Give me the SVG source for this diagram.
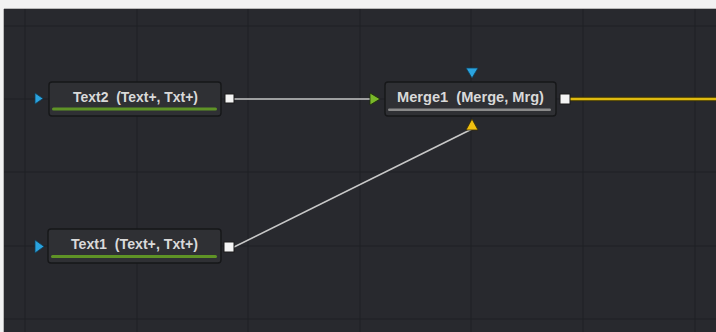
<svg xmlns="http://www.w3.org/2000/svg" width="716" height="332" viewBox="0 0 716 332">
  <defs>
    <style>
      .grid { stroke: #1f2024; stroke-width: 1; }
      .body { fill: #2f3034; stroke: #161719; stroke-width: 1.4; }
      .label { font-family: "Liberation Sans", Arial, sans-serif; font-size: 14px; font-weight: bold; fill: #d9d9d9; white-space: pre; }
      .port { fill: #f4f4f4; stroke: #1a1a1a; stroke-width: 1; }
      .blue { fill: #2aa3df; stroke: #10405a; stroke-width: 0.8; }
      .wire { stroke: #c8c8c8; stroke-width: 1.6; fill: none; }
    </style>
  </defs>
  <rect x="0" y="0" width="716" height="332" fill="#f2f2f2"/>
  <rect x="4" y="9" width="712" height="323" fill="#28292e"/>
  <line x1="4" y1="8.5" x2="716" y2="8.5" stroke="#b8b8b8" stroke-width="1"/>
  <line x1="3.5" y1="9" x2="3.5" y2="332" stroke="#b8b8b8" stroke-width="1"/>
  <g id="grid">
    <line class="grid" x1="25" y1="9" x2="25" y2="332"/>
    <line class="grid" x1="137" y1="9" x2="137" y2="332"/>
    <line class="grid" x1="248" y1="9" x2="248" y2="332"/>
    <line class="grid" x1="360" y1="9" x2="360" y2="332"/>
    <line class="grid" x1="471" y1="9" x2="471" y2="332"/>
    <line class="grid" x1="583" y1="9" x2="583" y2="332"/>
    <line class="grid" x1="695" y1="9" x2="695" y2="332"/>
    <line class="grid" x1="4" y1="26" x2="716" y2="26"/>
    <line class="grid" x1="4" y1="99" x2="716" y2="99"/>
    <line class="grid" x1="4" y1="172" x2="716" y2="172"/>
    <line class="grid" x1="4" y1="246" x2="716" y2="246"/>
    <line class="grid" x1="4" y1="319" x2="716" y2="319"/>
  </g>
  <g id="connectors">
    <line class="wire" x1="234" y1="99" x2="370" y2="99"/>
    <line class="wire" x1="234" y1="247" x2="472" y2="129"/>
    <line x1="570" y1="99" x2="716" y2="99" stroke="#3a3206" stroke-width="4.5"/>
    <line x1="570" y1="99" x2="716" y2="99" stroke="#e0bb10" stroke-width="2.5"/>
  </g>
  <g id="text2">
    <rect class="body" x="49" y="82" width="172" height="34" rx="3"/>
    <text class="label" x="73" y="102" textLength="125" lengthAdjust="spacingAndGlyphs">Text2  (Text+, Txt+)</text>
    <rect x="52" y="107.5" width="165" height="3" rx="1.5" fill="#5f9326"/>
    <polygon class="blue" points="35,93 43,98.5 35,104"/>
    <rect class="port" x="225" y="94" width="9" height="9"/>
  </g>
  <g id="text1">
    <rect class="body" x="48" y="229" width="173" height="34" rx="3"/>
    <text class="label" x="71" y="249" textLength="127" lengthAdjust="spacingAndGlyphs">Text1  (Text+, Txt+)</text>
    <rect x="51" y="255" width="166" height="3" rx="1.5" fill="#5f9326"/>
    <polygon class="blue" points="35,240 44,246.5 35,253"/>
    <rect class="port" x="224" y="242" width="10" height="10"/>
  </g>
  <g id="merge1">
    <rect class="body" x="385" y="82" width="171" height="34" rx="3"/>
    <text class="label" x="397" y="102" textLength="147" lengthAdjust="spacingAndGlyphs">Merge1  (Merge, Mrg)</text>
    <rect x="388" y="108.5" width="163" height="2.5" rx="1.2" fill="#8a8a8a"/>
    <polygon class="blue" points="466,68 478,68 472,78"/>
    <polygon points="370,93 380,99 370,105" fill="#7ab82a" stroke="#1d3008" stroke-width="0.8"/>
    <polygon points="472,119 478,130 466,130" fill="#f0bf10" stroke="#3a2e02" stroke-width="0.8"/>
    <rect class="port" x="560" y="94" width="10" height="10"/>
  </g>
</svg>
